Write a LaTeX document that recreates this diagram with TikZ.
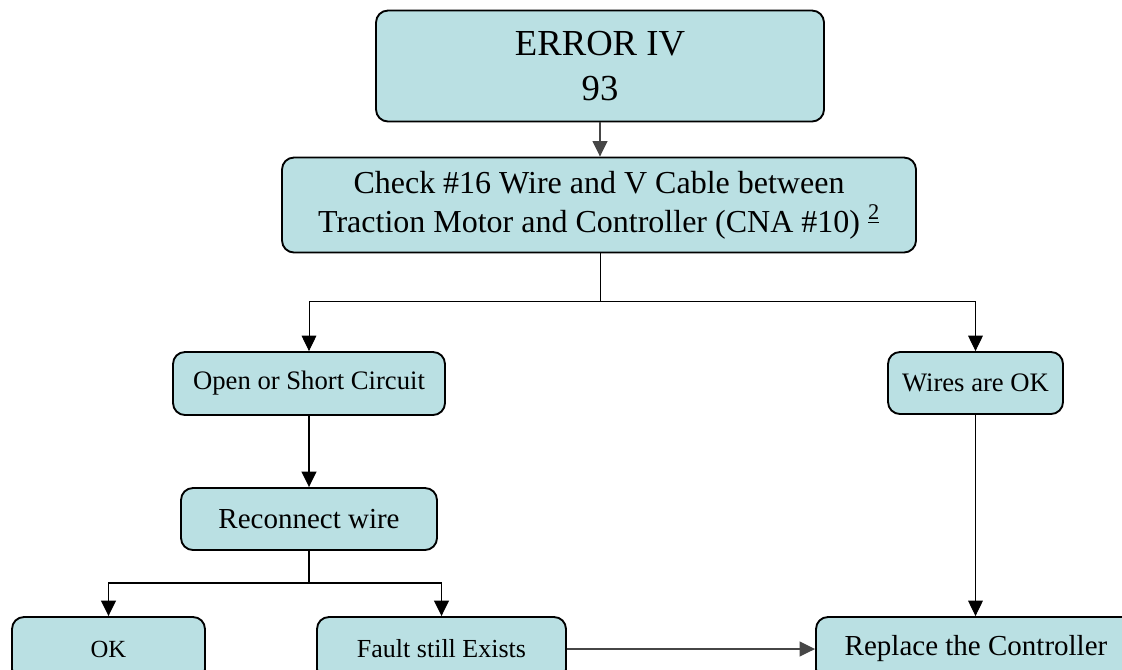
\documentclass[tikz,border=0pt]{standalone}
\usepackage{fontspec}
\setmainfont{Liberation Serif}
\usetikzlibrary{arrows.meta}
\definecolor{boxfill}{RGB}{186,224,227}
\definecolor{linegray}{RGB}{70,70,70}
\begin{document}
\begin{tikzpicture}[x=0.75pt,y=-0.75pt,
  box/.style={draw=black, line width=1.4pt, fill=boxfill, rounded corners=9pt,
    inner sep=0pt, align=center},
  conn/.style={-{Triangle[width=11pt,length=11.5pt]}, line width=0.75pt},
  thickconn/.style={conn, line width=1.4pt},
  plainline/.style={line width=0.75pt},
  thickline/.style={line width=1.4pt},
]
\clip (0,0) rectangle (1122,669);
\fill[white] (0,0) rectangle (1122,669);

\node[box, minimum width=336pt, minimum height=83.25pt,
  font=\fontsize{27.5}{34}\selectfont] (err) at (600,66) {ERROR IV\\93};
\node[box, minimum width=475.5pt, minimum height=71.25pt,
  font=\fontsize{24}{29}\selectfont] (chk) at (599,205)
  {Check \#16 Wire and V Cable between\\Traction Motor and Controller (CNA \#10) \textsuperscript{\underline{2}}};
\node[box, minimum width=204pt, minimum height=47.25pt,
  font=\fontsize{20}{24}\selectfont] (open) at (309,383.5) {Open or Short Circuit};
\node[box, minimum width=131.25pt, minimum height=46.5pt,
  font=\fontsize{20}{24}\selectfont] (wires) at (975.5,383) {Wires are OK};
\node[box, minimum width=192pt, minimum height=46.5pt,
  font=\fontsize{21.75}{26}\selectfont] (recon) at (309,519) {Reconnect wire};
\node[box, minimum width=144.75pt, minimum height=48pt,
  font=\fontsize{18.5}{22}\selectfont] (ok) at (108.5,649) {OK};
\node[box, minimum width=186.75pt, minimum height=48pt,
  font=\fontsize{19.5}{23}\selectfont] (fault) at (441.5,649) {Fault still Exists};
\node[box, minimum width=240pt, minimum height=48pt,
  font=\fontsize{21.75}{26}\selectfont] (repl) at (976,649) {Replace the Controller};

\coordinate (j1) at (600,301);
\coordinate (j2) at (309,583);

\draw[conn, draw=linegray, line width=1pt] (err.south) -- (err.south |- chk.north);
\draw[plainline] (chk.south -| j1) -- (j1);
\draw[conn] (j1) -| (open.north);
\draw[conn] (j1) -| (wires.north);
\draw[thickconn] (open.south) -- (recon.north);
\draw[thickline] (recon.south) -- (j2);
\draw[thickconn] (j2) -| (ok.north);
\draw[thickconn] (j2) -| (fault.north);
\draw[conn, draw=linegray, line width=1.1pt] (fault.east) -- (repl.west);
\draw[conn] (wires.south) -- (wires.south |- repl.north);
\end{tikzpicture}
\end{document}
